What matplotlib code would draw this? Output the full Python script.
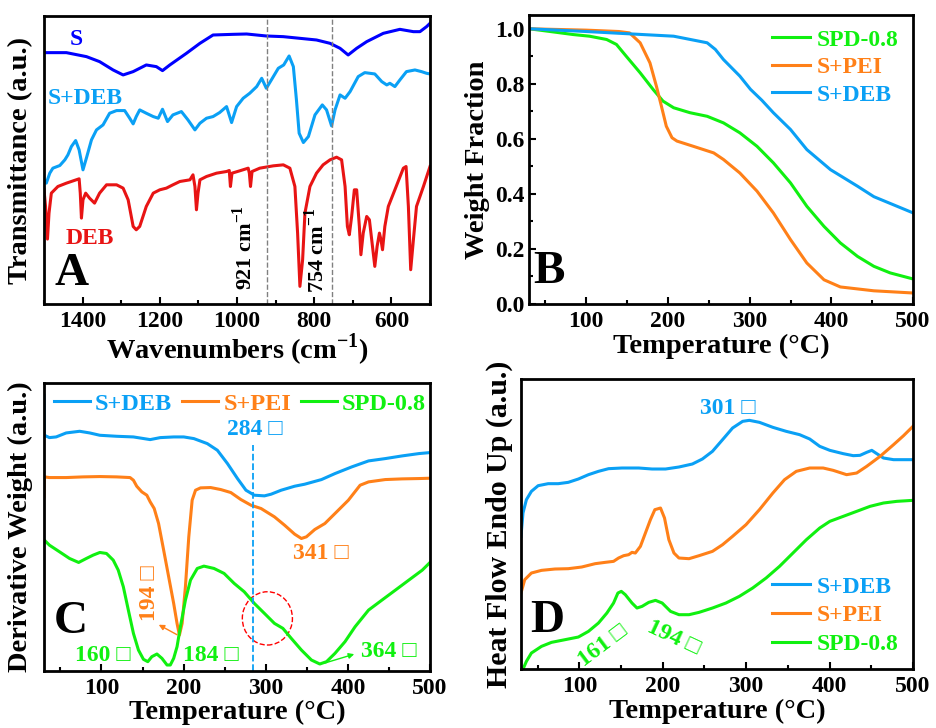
import numpy as np
import matplotlib.pyplot as plt
from matplotlib.patches import Ellipse
from matplotlib.ticker import MultipleLocator

plt.rcParams['font.family'] = ['Liberation Serif', 'DejaVu Sans']
plt.rcParams['font.weight'] = 'bold'
plt.rcParams['mathtext.fontset'] = 'custom'
plt.rcParams['mathtext.rm'] = 'Liberation Serif:bold'
plt.rcParams['mathtext.bf'] = 'Liberation Serif:bold'
plt.rcParams['axes.linewidth'] = 2

BLUE = '#0000ff'
LBLUE = '#0aa0f5'
RED = '#e81414'
ORANGE = '#ff8018'
GREEN = '#10f010'
BOX = '\u25a1'

# ---- A: FTIR (transmittance, a.u.) ----
s_wn = [1500, 1442, 1390, 1356, 1321, 1295, 1269, 1235, 1209, 1193, 1174, 1131, 1096, 1062,
        1010, 975, 924, 880, 837, 794, 759, 733, 712, 690, 664, 621, 578, 543, 526, 509, 500]
s_t = [75.5, 75.5, 74.3, 72.8, 70.3, 68.8, 69.8, 71.8, 71.3, 70.1, 71.8, 75.3, 78.3, 80.8,
       81.0, 81.1, 80.5, 80.3, 79.8, 79.3, 78.3, 76.8, 74.8, 76.8, 78.8, 81.3, 82.5, 81.8,
       81.8, 83.3, 84.3]

sdeb_wn = [1500, 1494, 1485, 1477, 1459, 1446, 1438, 1429, 1418, 1409, 1399, 1389, 1377, 1364,
           1347, 1330, 1312, 1291, 1278, 1269, 1261, 1252, 1235, 1217, 1204, 1193, 1180, 1166,
           1144, 1127, 1109, 1096, 1079, 1062, 1045, 1027, 1014, 1001, 984, 967, 949, 936,
           924, 911, 893, 879, 865, 854, 846, 839, 828, 815, 798, 779, 768, 755, 746, 733,
           720, 707, 686, 669, 643, 625, 612, 604, 591, 578, 561, 539, 522, 509, 500]
sdeb_t = [37.3, 36.3, 39.3, 40.8, 41.6, 43.3, 44.8, 47.3, 49.1, 46.3, 40.3, 44.3, 49.3, 52.3,
          53.8, 57.3, 58.1, 58.1, 55.8, 54.1, 56.3, 58.3, 57.3, 56.3, 55.8, 58.5, 54.8, 56.8,
          57.8, 55.3, 52.3, 54.3, 55.8, 56.3, 57.5, 59.3, 54.5, 59.3, 61.8, 63.3, 65.3, 67.8,
          64.8, 67.3, 70.8, 71.8, 74.5, 71.3, 61.3, 51.3, 48.5, 50.3, 56.8, 59.8, 58.3, 53.5,
          58.3, 62.8, 61.8, 63.8, 68.3, 69.5, 69.1, 66.8, 65.8, 66.3, 65.3, 67.3, 69.8, 70.3,
          69.8, 69.3, 69.1]

deb_wn = [1500, 1496, 1491, 1487, 1481, 1464, 1442, 1409, 1406, 1403, 1399, 1392, 1382, 1369,
          1356, 1338, 1312, 1295, 1282, 1269, 1261, 1252, 1235, 1217, 1200, 1183, 1166, 1148,
          1122, 1114, 1109, 1105, 1101, 1096, 1079, 1053, 1027, 1020, 1017, 1013, 993, 971,
          968, 965, 961, 941, 906, 880, 863, 850, 843, 837, 830, 824, 811, 794, 777, 759,
          742, 729, 720, 714, 709, 703, 696, 690, 683, 679, 673, 664, 657, 649, 643, 637,
          631, 627, 623, 617, 608, 591, 569, 562, 556, 550, 543, 535, 517, 500]
deb_t = [34.3, 29.3, 19.5, 27.3, 33.3, 35.3, 36.3, 37.6, 33.3, 25.8, 31.3, 33.3, 31.8, 30.3,
         33.3, 35.8, 35.8, 34.8, 31.3, 23.3, 22.3, 23.3, 29.3, 33.3, 34.3, 34.8, 35.8, 36.8,
         37.3, 38.8, 35.3, 28.3, 33.3, 37.3, 38.3, 39.3, 39.8, 40.1, 35.3, 39.3, 40.0, 40.8,
         39.3, 35.3, 39.8, 40.8, 41.5, 41.8, 40.8, 35.3, 21.3, 5.3, 13.3, 27.3, 35.3, 39.3,
         41.8, 43.3, 44.1, 43.3, 35.3, 23.3, 20.8, 26.3, 34.3, 34.3, 23.3, 14.8, 21.3, 26.3,
         25.3, 17.3, 11.3, 17.3, 21.3, 19.3, 16.3, 23.3, 29.3, 34.3, 40.8, 41.3, 29.3, 10.3,
         19.3, 29.3, 35.3, 41.3]
marks_a = [921, 754]

# ---- B: TGA weight fraction ----
deb_T = [30, 100, 150, 207, 248, 258, 268, 278, 288, 301, 315, 329, 350, 370, 399, 432,
         452, 500]
deb_w = [1.0, 0.99, 0.982, 0.973, 0.949, 0.925, 0.888, 0.858, 0.828, 0.78, 0.74, 0.695,
         0.634, 0.561, 0.488, 0.428, 0.39, 0.331]
pei_T = [30, 100, 140, 153, 166, 178, 186, 192, 198, 205, 211, 231, 256, 268, 288, 309,
         329, 350, 370, 391, 411, 452, 500]
pei_w = [1.0, 0.995, 0.99, 0.985, 0.949, 0.876, 0.79, 0.719, 0.646, 0.604, 0.592, 0.573,
         0.549, 0.525, 0.476, 0.41, 0.331, 0.234, 0.149, 0.088, 0.062, 0.048, 0.04]
spd_T = [30, 43, 84, 104, 125, 137, 149, 166, 182, 194, 207, 227, 248, 268, 288, 309, 329,
         350, 370, 391, 411, 432, 452, 472, 500]
spd_w = [1.0, 0.995, 0.979, 0.973, 0.961, 0.943, 0.90, 0.84, 0.779, 0.737, 0.713, 0.695,
         0.682, 0.658, 0.622, 0.573, 0.513, 0.44, 0.355, 0.282, 0.222, 0.173, 0.137, 0.113, 0.091]

# ---- C: DTG (a.u.) ----
c_deb_T = [30, 30.5, 36.6, 44.8, 57, 73.4, 85.7, 98, 118.4, 138.9, 159.3, 171.6, 188, 200.2,
           212.5, 228.8, 241.1, 253.4, 265.6, 275.9, 286.1, 298.4, 306.5, 318.8, 335.2, 347.4,
           367.9, 384.3, 404.7, 425.2, 445.6, 466, 486.5, 500]
c_deb = [82.8, 70.8, 70.1, 70.3, 71.5, 72, 71.5, 70.8, 70.5, 70.3, 69.5, 70.1, 70.3, 70.3,
         69.8, 68.3, 66.3, 62.3, 57.8, 54.3, 52.8, 52.6, 53.1, 54.3, 55.5, 56.1, 57.5, 59.3,
         61.3, 63.1, 63.8, 64.6, 65.3, 65.6]
c_pei_T = [30, 30.5, 36.6, 57, 77.5, 98, 118.4, 134.8, 138.9, 142.9, 149.1, 155.2, 159.3,
           164.2, 169.5, 175.7, 181.8, 187.9, 192, 194.9, 198.2, 202.2, 206.3, 210.4, 214.5,
           220.6, 232.9, 245.2, 257.5, 269.7, 282, 294.3, 310.6, 322.9, 335.2, 343.4, 349.5,
           359.7, 372, 384.3, 400.6, 414.9, 425.2, 445.6, 466, 486.5, 500]
c_pei = [52.3, 58.3, 58.1, 58.1, 58.3, 58.4, 58.3, 58.1, 57.3, 55.5, 53.8, 52.8, 50.8, 48.8,
         44.3, 36.3, 28.3, 20.3, 14.3, 10.8, 14.3, 25.3, 40.3, 51.3, 54.3, 55, 55.1, 54.5,
         53.6, 51.5, 49.8, 48.8, 46.3, 43.8, 41.1, 39.8, 40.3, 42.5, 44.3, 47.3, 51.3, 55.8,
         56.8, 57.5, 57.7, 57.8, 57.9]
c_spd_T = [30.5, 36.6, 48.9, 61.1, 72.2, 81.6, 89.8, 98, 106.1, 114.3, 120.4, 126.6, 132.7,
           138.9, 145, 151.1, 156.4, 161.3, 167.5, 173.6, 179.8, 183.8, 187.9, 192, 196.1,
           202.2, 208.4, 216.6, 224.7, 237, 249.3, 261.6, 273.8, 286.1, 298.4, 310.6, 320.9,
           331.1, 343.4, 355.6, 365.8, 374, 384.3, 396.5, 408.8, 425.2, 441.5, 457.9, 474.2,
           490.6, 500]
c_spd = [39.3, 37.8, 35.8, 33.8, 32.6, 33.8, 34.8, 35.6, 35.3, 33.3, 30.3, 25.3, 18.3, 11.3,
         6.3, 3.5, 2.8, 4.3, 5.1, 3.8, 1.8, 1.8, 3.8, 7.3, 13.3, 21.3, 27.3, 30.8, 31.5, 30.8,
         29.3, 26.3, 23.8, 20.3, 17.3, 14.3, 12.8, 9.8, 6.3, 3.3, 2.1, 2.8, 5.3, 8.8, 13.3,
         18.3, 21.3, 24.3, 27.3, 30.3, 32.6]
peak_c = 284

# ---- D: DSC heat flow (a.u.) ----
d_deb_T = [30, 32.4, 36.5, 42.5, 50.6, 62.6, 74.7, 86.7, 98.8, 110.9, 122.9, 135, 151.1,
           171.2, 187.2, 203.3, 219.4, 235.5, 247.5, 259.6, 271.7, 283.7, 295.8, 303.8, 315.9,
           332, 348, 364.1, 376.2, 388.2, 400.3, 416.4, 428.4, 436.5, 444.5, 450.6, 456.6,
           464.6, 476.7, 488.7, 500]
d_deb = [39.8, 46.8, 50.8, 53.3, 55, 55.6, 55.6, 56, 57, 58.3, 59.3, 60.1, 60.3, 60.3, 60,
         60, 60.6, 61.5, 63, 65.3, 68.8, 72.3, 74.3, 74.6, 74, 72.5, 71.3, 70.3, 69, 66.8,
         65.6, 64.6, 64, 64.1, 65, 65.6, 64.6, 63.3, 62.8, 62.8, 62.8]
d_pei_T = [30, 34.5, 42.5, 54.6, 70.7, 86.7, 102.8, 118.9, 131, 141, 147, 153.1, 159.1,
           163.1, 167.1, 173.2, 179.2, 185.2, 190.5, 197.3, 202.1, 207.3, 213.4, 219.4, 231.5,
           243.5, 259.6, 271.7, 283.7, 299.8, 315.9, 332, 346, 360.1, 376.2, 392.3, 404.3,
           420.4, 432.5, 444.5, 460.6, 476.7, 488.7, 500]
d_pei = [22.8, 26.8, 28.8, 29.6, 30, 30.1, 30.6, 31.6, 32, 32.3, 33.3, 34, 34.3, 35, 34.8,
         36.8, 40.8, 44.8, 47.8, 48.3, 45.3, 38.8, 34.8, 33.3, 33.1, 34, 35.3, 37.3, 39.8,
         43.3, 47.8, 52.8, 56.8, 59.3, 60.3, 60.3, 59.6, 58.3, 58.8, 60.8, 63.8, 67.3, 70, 72.8]
d_spd_T = [32.5, 36.5, 42.5, 54.6, 66.6, 82.7, 98.8, 110.9, 122.9, 133, 141, 146.2, 150.3,
           155.1, 163.1, 169.1, 175.2, 183.2, 191.3, 199.3, 209.3, 219.4, 231.5, 243.5, 259.6,
           275.7, 291.8, 307.8, 323.9, 340, 356.1, 372.2, 388.2, 400.3, 416.4, 432.5, 448.5,
           464.6, 480.7, 500]
d_spd = [0, 2.3, 4.8, 6.8, 8, 8.8, 9.6, 11.3, 13.8, 16.8, 19.8, 22.8, 23.3, 22.3, 19.8, 18.3,
         18.8, 20, 20.6, 19.8, 17.3, 16.3, 16.3, 17, 18.3, 19.8, 21.8, 24.3, 27.3, 30.8, 34.8,
         38.8, 42.3, 44.3, 45.8, 47.3, 48.8, 49.8, 50.3, 50.6]

LW = 2.2
TICK = 17
LAB = 20.5

fig = plt.figure(figsize=(9.36, 7.28), dpi=100)


def style(ax, major, minor):
    ax.xaxis.set_major_locator(MultipleLocator(major))
    ax.xaxis.set_minor_locator(MultipleLocator(minor))
    ax.tick_params(axis='x', which='major', direction='in', length=5, width=1.5,
                   labelsize=TICK, pad=5)
    ax.tick_params(axis='x', which='minor', direction='in', length=3, width=1.5)
    for lab in ax.get_xticklabels():
        lab.set_fontweight('bold')


def color_legend(leg):
    for t, l in zip(leg.get_texts(), leg.get_lines()):
        t.set_color(l.get_color())


# A
axA = fig.add_axes([0.047, 0.5824, 0.4124, 0.3956])
axA.plot(s_wn, s_t, color=BLUE, lw=LW)
axA.plot(sdeb_wn, sdeb_t, color=LBLUE, lw=LW)
axA.plot(deb_wn, deb_t, color=RED, lw=LW)
for m in marks_a:
    axA.axvline(m, color='gray', ls='--', lw=1)
axA.set_xlim(1500, 500)
axA.set_ylim(0, 86.5)
axA.set_yticks([])
style(axA, 200, 100)
axA.set_xlabel(r'Wavenumbers (cm$^{-1}$)', fontsize=LAB, fontweight='bold', labelpad=0)
axA.set_ylabel('Transmittance (a.u.)', fontsize=LAB, fontweight='bold', labelpad=8)
axA.text(1416, 79.5, 'S', color=BLUE, fontsize=17, ha='center', va='center')
axA.text(1393, 61.8, 'S+DEB', color=LBLUE, fontsize=17, ha='center', va='center')
axA.text(1382, 19.8, 'DEB', color=RED, fontsize=17, ha='center', va='center')
axA.text(1429, 9, 'A', fontsize=34, ha='center', va='center')
axA.text(980, 4.3, r'921 cm$^{-1}$', rotation=90, fontsize=16, ha='center', va='bottom')
axA.text(794, 3.3, r'754 cm$^{-1}$', rotation=90, fontsize=16, ha='center', va='bottom')

# B
axB = fig.add_axes([0.5652, 0.5824, 0.4103, 0.397])
axB.plot(spd_T, spd_w, color=GREEN, lw=LW, label='SPD-0.8')
axB.plot(pei_T, pei_w, color=ORANGE, lw=LW, label='S+PEI')
axB.plot(deb_T, deb_w, color=LBLUE, lw=LW, label='S+DEB')
axB.set_xlim(30, 500)
axB.set_ylim(0, 1.05)
style(axB, 100, 50)
axB.yaxis.set_minor_locator(MultipleLocator(0.1))
axB.tick_params(axis='y', which='major', direction='in', length=5, width=1.5, labelsize=TICK)
axB.tick_params(axis='y', which='minor', direction='in', length=3, width=1.5)
axB.set_yticks([0, 0.2, 0.4, 0.6, 0.8, 1.0], ['0.0', '0.2', '0.4', '0.6', '0.8', '1.0'],
               fontweight='bold')
axB.set_xlabel('Temperature (\u00b0C)', fontsize=LAB, fontweight='bold', labelpad=1)
axB.set_ylabel('Weight Fraction', fontsize=LAB, fontweight='bold', labelpad=3)
color_legend(axB.legend(loc='upper right', frameon=False, fontsize=17, handlelength=1.6,
                        handletextpad=0.3, labelspacing=0.25, borderaxespad=0.2))
axB.text(55, 0.115, 'B', fontsize=34, ha='center', va='center')

# C
axC = fig.add_axes([0.047, 0.0783, 0.4124, 0.3956])
axC.plot(c_deb_T, c_deb, color=LBLUE, lw=LW, label='S+DEB')
axC.plot(c_pei_T, c_pei, color=ORANGE, lw=LW, label='S+PEI')
axC.plot(c_spd_T, c_spd, color=GREEN, lw=LW, label='SPD-0.8')
axC.vlines(peak_c, 0, 67.8, color=LBLUE, ls='--', lw=1.3)
axC.add_patch(Ellipse((302, 15.8), 61, 16, fill=False, ls='--', color='red', lw=1))
axC.set_xlim(30, 500)
axC.set_ylim(0, 86.5)
axC.set_yticks([])
style(axC, 100, 50)
axC.set_xlabel('Temperature (\u00b0C)', fontsize=LAB, fontweight='bold', labelpad=1)
axC.set_ylabel('Derivative Weight (a.u.)', fontsize=LAB, fontweight='bold', labelpad=8)
color_legend(axC.legend(loc='upper left', ncol=3, frameon=False, fontsize=17.5,
                        handlelength=1.5, handletextpad=0.2, columnspacing=0.4,
                        borderaxespad=0.1, borderpad=0.3))
axC.text(287, 72.6, '284 ' + BOX, color=LBLUE, fontsize=17, ha='center', va='center')
axC.text(367, 35.3, '341 ' + BOX, color=ORANGE, fontsize=17, ha='center', va='center')
axC.text(159, 23.3, '194 ' + BOX, color=ORANGE, fontsize=17, rotation=90,
         ha='center', va='center')
axC.text(102, 4.8, '160 ' + BOX, color=GREEN, fontsize=17, ha='center', va='center')
axC.text(233, 4.8, '184 ' + BOX, color=GREEN, fontsize=17, ha='center', va='center')
axC.text(450, 5.8, '364 ' + BOX, color=GREEN, fontsize=17, ha='center', va='center')
axC.annotate('', xy=(166.7, 14.3), xytext=(194.9, 10.5),
             arrowprops=dict(arrowstyle='-|>', color=ORANGE, lw=1, mutation_scale=8))
axC.annotate('', xy=(411, 5.3), xytext=(368, 2.1),
             arrowprops=dict(arrowstyle='-|>', color=GREEN, lw=1, mutation_scale=8))
axC.text(63, 14.8, 'C', fontsize=34, ha='center', va='center')

# D
axD = fig.add_axes([0.5566, 0.081, 0.4188, 0.3984])
axD.plot(d_deb_T, d_deb, color=LBLUE, lw=LW, label='S+DEB')
axD.plot(d_pei_T, d_pei, color=ORANGE, lw=LW, label='S+PEI')
axD.plot(d_spd_T, d_spd, color=GREEN, lw=LW, label='SPD-0.8')
axD.set_xlim(30, 500)
axD.set_ylim(0, 87)
axD.set_yticks([])
style(axD, 100, 50)
axD.set_xlabel('Temperature (\u00b0C)', fontsize=LAB, fontweight='bold', labelpad=1)
axD.set_ylabel('Heat Flow Endo Up (a.u.)', fontsize=21.5, fontweight='bold', labelpad=6)
color_legend(axD.legend(loc='lower right', frameon=False, fontsize=17, handlelength=1.6,
                        handletextpad=0.3, labelspacing=0.3, borderaxespad=0.2))
axD.text(278, 78.3, '301 ' + BOX, color=LBLUE, fontsize=17, ha='center', va='center')
axD.text(128, 6.8, '161 ' + BOX, color=GREEN, fontsize=17, rotation=37,
         ha='center', va='center')
axD.text(213, 9.3, '194 ' + BOX, color=GREEN, fontsize=17, rotation=-25,
         ha='center', va='center')
axD.text(62, 14.3, 'D', fontsize=34, ha='center', va='center')

fig.savefig('out.png', dpi=100)
